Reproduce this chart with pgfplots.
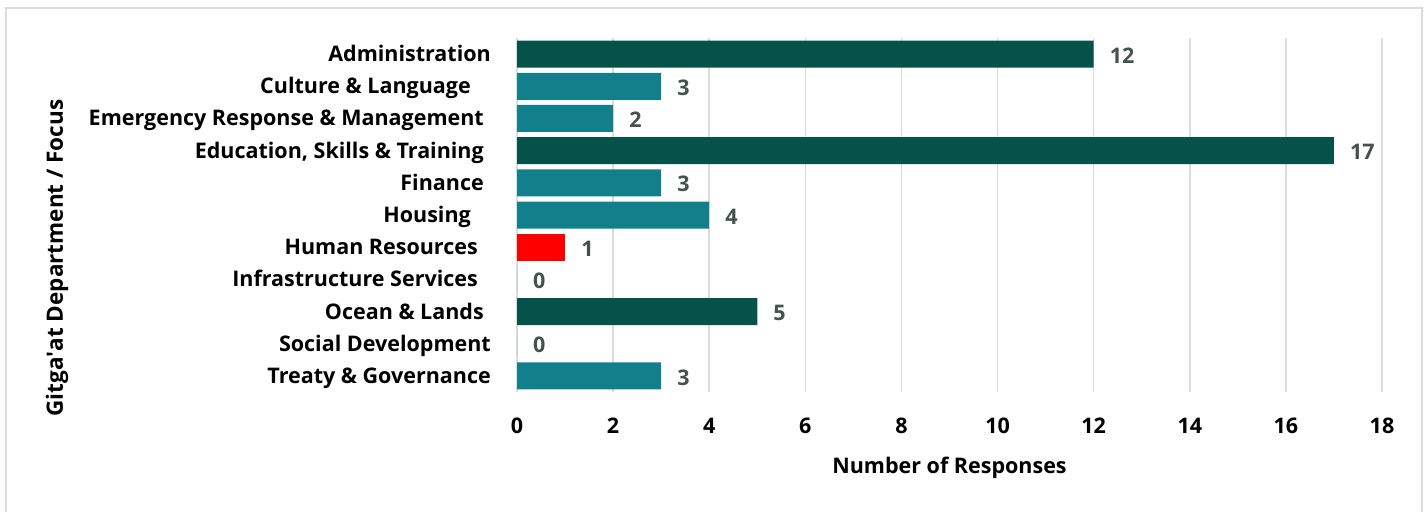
\documentclass[border=0pt]{standalone}
\usepackage{pgfplots}
\pgfplotsset{compat=1.18}
\usepackage{fontspec}
\setmainfont{Open Sans}
\definecolor{darkg}{HTML}{05524A}
\definecolor{teal2}{HTML}{12808A}
\definecolor{vallab}{HTML}{44524F}
\definecolor{gridc}{HTML}{D9DEDC}
\newcommand{\lf}{\fontsize{21.5bp}{25bp}\selectfont\bfseries}
\begin{document}
\begin{tikzpicture}
\useasboundingbox (0,0) rectangle (1428bp,512bp);
\draw[gridc, line width=2bp] (6bp,-2bp) -- (6bp,504bp) -- (1422bp,504bp) -- (1422bp,-2bp);
\begin{axis}[
 at={(517bp,120bp)}, anchor=south west,
 scale only axis, width=865bp, height=354bp,
 xbar, bar width=27bp, bar shift=0pt,
 xmin=0, xmax=18, ymin=-0.5, ymax=10.5, y dir=reverse,
 xtick={0,2,...,18}, ytick={0,...,10},
 yticklabels={Administration, Culture \& Language\kern20bp, Emergency Response \& Management\kern7bp, {Education, Skills \& Training\kern7bp}, Finance\kern7bp, Housing\kern20bp, Human Resources\kern13bp, Infrastructure Services\kern13bp, Ocean \& Lands\kern7bp, Social Development, Treaty \& Governance},
 axis line style={draw=none},
 major tick length=0pt,
 xmajorgrids, grid style={gridc, line width=1.5bp},
 /pgf/number format/assume math mode=true,
 tick label style={font=\lf, text=black, inner sep=0pt},
 yticklabel style={anchor=east, xshift=-26bp, text height=15bp, text depth=0pt},
 xticklabel style={anchor=north, yshift=-26bp},
 clip=false,
 nodes near coords,
 nodes near coords style={font=\lf, text=vallab, anchor=west, inner sep=0pt, xshift=16bp, yshift=-1.5bp},
]
\addplot[fill=darkg, draw=none] coordinates {(12,0) (17,3) (5,8)};
\addplot[fill=teal2, draw=none] coordinates {(3,1) (2,2) (3,4) (4,5) (0,7) (0,9) (3,10)};
\addplot[fill=red, draw=none] coordinates {(1,6)};
\end{axis}
\node[font=\lf] at (949.5bp,44bp) {Number of Responses};
\node[rotate=90, font=\fontsize{22.5bp}{26bp}\selectfont\bfseries] at (57bp,254bp) {Gitga\textquotesingle at Department / Focus};
\end{tikzpicture}
\end{document}
